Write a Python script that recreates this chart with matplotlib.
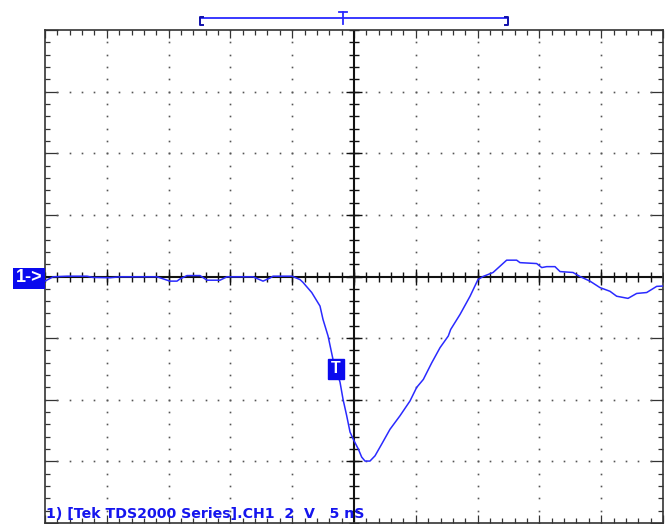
import numpy as np
import matplotlib.pyplot as plt
from matplotlib.patches import Rectangle
from matplotlib.ticker import MultipleLocator

# TDS2000 capture: CH1, 2 V/div, 5 ns/div, 10 x 8 divisions
ns_per_div = 5
volts_per_div = 2
n_hdiv = 10
n_vdiv = 8

# CH1 trace (time in ns from trigger, voltage in V)
t_ns = [-25.0, -24.35, -23.22, -21.60, -21.12, -19.74, -18.93, -15.94, -14.89, -14.32,
        -14.08, -13.51, -12.46, -11.89, -10.84, -10.28, -8.17, -7.36, -6.80, -6.55,
        -5.02, -4.37, -4.13, -3.42, -2.75, -2.51, -2.10, -1.70, -1.13, -0.89,
        -0.59, -0.32, 0.0, 0.35, 0.62, 0.89, 1.29, 1.70, 2.24, 2.91,
        3.72, 4.53, 5.07, 5.61, 6.29, 6.96, 7.63, 7.82, 8.58, 9.39,
        10.03, 10.44, 11.25, 12.35, 13.16, 13.43, 14.78, 15.19, 15.59, 16.26,
        16.67, 17.72, 18.28, 19.09, 19.90, 20.71, 21.25, 22.17, 22.87, 23.68,
        24.49, 25.0]
ch1_v = [-0.15, -0.01, 0.01, 0.01, -0.03, -0.04, -0.01, -0.01, -0.15, -0.15,
         -0.08, 0.03, 0.03, -0.12, -0.12, -0.01, -0.01, -0.15, -0.05, 0.01,
         0.01, -0.10, -0.19, -0.52, -0.96, -1.39, -1.93, -2.69, -3.43, -3.98,
         -4.52, -5.05, -5.33, -5.60, -5.86, -5.99, -5.99, -5.82, -5.44, -4.96,
         -4.52, -4.04, -3.60, -3.34, -2.80, -2.31, -1.93, -1.72, -1.23, -0.64,
         -0.10, 0.0, 0.13, 0.53, 0.53, 0.45, 0.42, 0.29, 0.32, 0.32,
         0.16, 0.13, 0.0, -0.15, -0.36, -0.48, -0.64, -0.71, -0.55, -0.52,
         -0.32, -0.31]

# trigger marker and record window indicator
trig_t, trig_v = -1.47, -3.0
record_start, record_end, record_trig = -12.46, 12.46, -0.89

trace_blue = '#2a2aff'
box_blue = '#0a0aee'
grid_col = '#333333'

W, H = 671, 524
fig = plt.figure(figsize=(W / 100, H / 100), dpi=100)
left, right, top, bottom = 45, 663, 30, 523
ax = fig.add_axes([left / W, 1 - bottom / H, (right - left) / W, (bottom - top) / H])

xmax = n_hdiv / 2 * ns_per_div
ymax = n_vdiv / 2 * volts_per_div
ax.set_xlim(-xmax, xmax)
ax.set_ylim(-ymax, ymax)

# border ticks, pointing inward on all four sides
ax.xaxis.set_major_locator(MultipleLocator(ns_per_div))
ax.xaxis.set_minor_locator(MultipleLocator(ns_per_div / 5))
ax.yaxis.set_major_locator(MultipleLocator(volts_per_div))
ax.yaxis.set_minor_locator(MultipleLocator(volts_per_div / 5))
ax.tick_params(which='both', direction='in', top=True, right=True,
               labelbottom=False, labelleft=False, color=grid_col, width=0.9)
ax.tick_params(axis='x', which='major', length=5.5)
ax.tick_params(axis='x', which='minor', length=3.6)
ax.tick_params(axis='y', which='major', length=9.5)
ax.tick_params(axis='y', which='minor', length=3.6)
for sp in ax.spines.values():
    sp.set_color(grid_col)
    sp.set_linewidth(1.2)

# dotted graticule along each major division
x_major = np.arange(-xmax + ns_per_div, xmax, ns_per_div)
y_major = np.arange(-ymax + volts_per_div, ymax, volts_per_div)
x_minor = np.arange(-xmax, xmax + 0.01, ns_per_div / 5)
y_minor = np.arange(-ymax, ymax + 0.01, volts_per_div / 5)
for xv in x_major:
    if abs(xv) < 1e-9:
        continue
    ax.plot(np.full_like(y_minor, xv), y_minor, ls='none', marker='s', ms=1.2,
            mew=0, color='#555555')
for yv in y_major:
    if abs(yv) < 1e-9:
        continue
    ax.plot(x_minor, np.full_like(x_minor, yv), ls='none', marker='s', ms=1.2,
            mew=0, color='#555555')

# center crosshair with tick marks
ax.axhline(0, color='#111111', lw=1.5)
ax.axvline(0, color='#111111', lw=1.5)
ax.plot(x_minor, np.zeros_like(x_minor), ls='none', marker='|', ms=7.5, mew=1.0,
        color='#111111')
ax.plot(np.zeros_like(y_minor), y_minor, ls='none', marker='_', ms=7.5, mew=1.0,
        color='#111111')
ax.plot(x_major, np.zeros_like(x_major), ls='none', marker='|', ms=11, mew=1.0,
        color='#111111')
ax.plot(np.zeros_like(y_major), y_major, ls='none', marker='_', ms=11, mew=1.0,
        color='#111111')

# waveform
ax.plot(t_ns, ch1_v, color=trace_blue, lw=1.1, zorder=5)

# trigger position label on the trace
ax.text(trig_t, trig_v, 'T', color='white', fontsize=11.5, fontweight='bold',
        family='Liberation Sans', ha='center', va='center', zorder=6,
        bbox=dict(boxstyle='square,pad=0.18', fc=box_blue, ec=box_blue))

# record window indicator above the graticule
bar_y = ymax + 0.38
ax.plot([record_start, record_end], [bar_y, bar_y], color=trace_blue, lw=1.3,
        clip_on=False)
for xb, foot in ((record_start, 0.25), (record_end, -0.25)):
    ax.plot([xb + foot, xb, xb, xb + foot],
            [bar_y + 0.05, bar_y + 0.05, bar_y - 0.22, bar_y - 0.22],
            color='#1010aa', lw=1.4, clip_on=False)
ax.plot([record_trig, record_trig], [bar_y - 0.2, bar_y + 0.22], color=trace_blue,
        lw=1.3, clip_on=False)
ax.plot([record_trig - 0.3, record_trig + 0.3], [bar_y + 0.22, bar_y + 0.22],
        color=trace_blue, lw=1.3, clip_on=False)

# channel 1 ground marker
fig.patches.append(Rectangle((12.5 / W, 1 - 289 / H), 32.5 / W, 21.5 / H,
                             transform=fig.transFigure, fc=box_blue, ec='none'))
fig.text(29 / W, 1 - 278 / H, '1->', color='white', fontsize=13, fontweight='bold',
         family='Liberation Sans', ha='center', va='center')

# status line
ax.text(-xmax + 0.05, -ymax + 0.08, '1) [Tek TDS2000 Series].CH1  2  V   5 nS',
        color='#1515ee', fontsize=10.2, fontweight='bold', family='DejaVu Sans',
        ha='left', va='bottom', zorder=6)

fig.savefig('out.png', dpi=100)
